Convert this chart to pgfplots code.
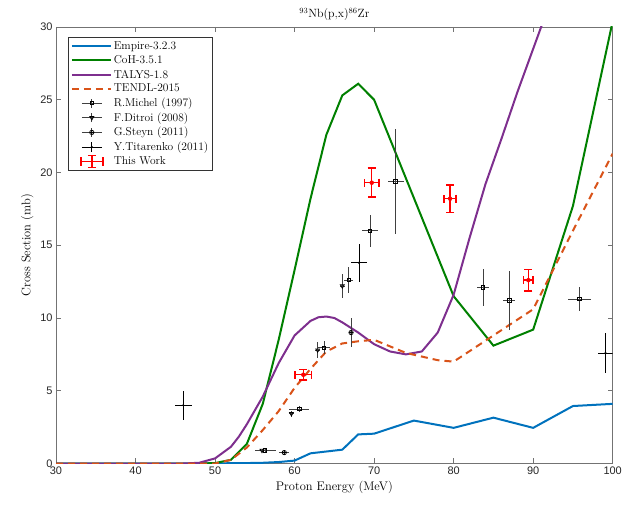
\documentclass[border=0pt]{standalone}
\usepackage{pgfplots}
\pgfplotsset{compat=1.18}
\usepackage{pgfplotstable}
\usepackage{fontspec}
\usetikzlibrary{calc}
\newfontfamily\ticksf{Liberation Sans}
\definecolor{mblue}{rgb}{0,0.447,0.741}
\definecolor{mgreen}{rgb}{0,0.5,0}
\definecolor{mpurple}{rgb}{0.494,0.184,0.556}
\definecolor{morange}{rgb}{0.85,0.325,0.098}
\definecolor{axgray}{rgb}{0.45,0.45,0.45}

\pgfplotstableread{
x y ex ey
56.3 0.90 1.3 0.15
60.6 3.75 1.25 0.2
63.7 7.95 0.8 0.45
66.8 12.6 0.6 0.9
69.5 16.0 1.05 1.1
72.7 19.4 1.0 3.6
83.7 12.1 0.75 1.25
87.0 11.2 0.75 2.05
95.8 11.3 1.45 0.8
}\michel
\pgfplotstableread{
x y ex ey
55.9 0.90 0.5 0.1
59.6 3.43 0.3 0.2
62.9 7.80 0.3 0.55
66.0 12.2 0.3 0.8
}\ditroi
\pgfplotstableread{
x y ex ey
58.7 0.75 0.6 0.1
67.1 9.0 0.3 1.0
}\steyn
\pgfplotstableread{
x y ex ey
46.0 4.0 1.05 1.0
68.1 13.8 1.05 1.3
99.1 7.6 0.95 1.35
}\titarenko
\pgfplotstableread{
x y ex ey
61.1 6.1 1.05 0.35
69.7 19.3 0.9 1.0
79.55 18.2 0.75 0.95
89.4 12.6 0.6 0.75
}\thiswork

\begin{document}
\begin{tikzpicture}
\begin{axis}[
  scale only axis,
  width=556.7bp, height=436.5bp,
  xmin=30, xmax=100, ymin=0, ymax=30,
  xtick={30,40,...,100}, ytick={0,5,...,30},
  tick align=inside,
  major tick length=5bp,
  axis line style={axgray, line width=0.7bp},
  tick style={axgray, line width=0.7bp},
  /pgf/number format/assume math mode=true,
  tick label style={font=\ticksf\fontsize{11}{11}\selectfont, black!85},
  xlabel={Proton Energy (MeV)},
  ylabel={Cross Section (mb)},
  label style={font=\fontsize{12.5}{14}\selectfont},
  title={$^{93}$Nb(p,x)$^{86}$Zr},
  title style={font=\fontsize{12}{14}\selectfont, yshift=-3bp},
  legend cell align=left,
  legend style={at={(0.0216,0.977)}, anchor=north west, draw=black!80, line width=0.6bp,
    font=\fontsize{11.5}{13}\selectfont, row sep=0.6bp, inner sep=2.5bp},
  legend image code/.code={\draw[#1] (0bp,0bp)--(39bp,0bp);},
]
\coordinate (ll) at (rel axis cs:0,0);
\coordinate (ur) at (rel axis cs:1,1);
\addplot[mblue, line width=2bp] coordinates {
(30,0) (48,0) (50,0.01) (52,0.02) (54,0.03) (56,0.05) (58,0.1) (60,0.2) (62,0.7) (66,0.95) (68,2.0) (70,2.05) (75,2.95) (80,2.45) (85,3.15) (90,2.45) (95,3.95) (100,4.1)
};
\addlegendentry{Empire-3.2.3}
\addplot[mgreen, line width=2bp] coordinates {
(30,0) (48,0) (50,0.03) (52,0.25) (54,1.35) (56,4.1) (58,8.5) (60,13.3) (62,18.2) (64,22.6) (66,25.3) (68,26.1) (70,25.0) (80,11.5) (85,8.1) (90,9.2) (95,17.7) (100,30.4)
};
\addlegendentry{CoH-3.5.1}
\addplot[mpurple, line width=2bp] coordinates {
(30,0) (46,0) (48,0.05) (50,0.35) (52,1.15) (53,1.85) (54,2.7) (56,4.6) (58,6.9) (60,8.8) (62,9.8) (63,10.05) (64,10.1) (65,10.0) (66,9.7) (68,9.0) (70,8.2) (72,7.7) (74,7.5) (76,7.7) (78,9.0) (80,11.6) (82,15.5) (84,19.2) (86,22.3) (88,25.5) (90,28.5) (92,31.5)
};
\addlegendentry{TALYS-1.8}
\addplot[morange, line width=2bp, dash pattern=on 7bp off 5bp] coordinates {
(30,0) (50,0) (52,0.25) (54,1.1) (56,2.3) (58,3.6) (60,5.2) (62,6.5) (64,7.7) (66,8.25) (68,8.4) (70,8.5) (72,8.05) (74,7.6) (76,7.35) (78,7.1) (80,7.0) (85,8.8) (90,10.6) (95,16.0) (100,21.3)
};
\addlegendentry{TENDL-2015}
\addplot[black, only marks, mark=square, mark size=1.7bp, mark options={line width=0.8bp},
  legend image code/.code={\draw[black!75,line width=0.8bp] (10bp,0bp)--(30bp,0bp) (20bp,-4.5bp)--(20bp,4.5bp); \draw[black,line width=0.8bp] plot[mark=square, mark size=1.7bp] coordinates {(20bp,0bp)};},
  error bars/.cd, x dir=both, y dir=both, x explicit, y explicit,
  error bar style={black!75, line width=0.8bp}, error mark=none]
  table[x=x, y=y, x error=ex, y error=ey] {\michel};
\addlegendentry{R.Michel (1997)}
\addplot[black, only marks, mark=triangle, mark size=2.2bp, mark options={rotate=180, line width=0.8bp},
  legend image code/.code={\draw[black!75,line width=0.8bp] (10bp,0bp)--(30bp,0bp) (20bp,-4.5bp)--(20bp,4.5bp); \draw[black,line width=0.8bp] plot[mark=triangle, mark size=2.2bp, mark options={rotate=180}] coordinates {(20bp,0bp)};},
  error bars/.cd, x dir=both, y dir=both, x explicit, y explicit,
  error bar style={black!75, line width=0.8bp}, error mark=none]
  table[x=x, y=y, x error=ex, y error=ey] {\ditroi};
\addlegendentry{F.Ditroi (2008)}
\addplot[black, only marks, mark=oplus, mark size=2.2bp, mark options={line width=0.7bp},
  legend image code/.code={\draw[black!75,line width=0.8bp] (10bp,0bp)--(30bp,0bp) (20bp,-4.5bp)--(20bp,4.5bp); \draw[black,line width=0.7bp] plot[mark=oplus, mark size=2.2bp] coordinates {(20bp,0bp)};},
  error bars/.cd, x dir=both, y dir=both, x explicit, y explicit,
  error bar style={black!75, line width=0.8bp}, error mark=none]
  table[x=x, y=y, x error=ex, y error=ey] {\steyn};
\addlegendentry{G.Steyn (2011)}
\addplot[black, only marks, mark=*, mark size=0.8bp,
  legend image code/.code={\draw[black,line width=0.8bp] (10bp,0bp)--(30bp,0bp) (20bp,-5bp)--(20bp,5bp); \fill[black] (20bp,0bp) circle (0.8bp);},
  error bars/.cd, x dir=both, y dir=both, x explicit, y explicit,
  error bar style={black, line width=0.8bp}, error mark=none]
  table[x=x, y=y, x error=ex, y error=ey] {\titarenko};
\addlegendentry{Y.Titarenko (2011)}
\addplot[red, only marks, mark=none,
  legend image code/.code={\draw[red,line width=1.5bp] (9bp,0bp)--(31bp,0bp) (9bp,-4.5bp)--(9bp,4.5bp) (31bp,-4.5bp)--(31bp,4.5bp) (20bp,-6bp)--(20bp,6bp) (16bp,-6bp)--(24bp,-6bp) (16bp,6bp)--(24bp,6bp);},
  error bars/.cd, x dir=both, y dir=both, x explicit, y explicit,
  error bar style={red, line width=1.5bp},
  error mark options={red, line width=1.5bp, mark size=4bp, rotate=90}]
  table[x=x, y=y, x error=ex, y error=ey] {\thiswork};
\addlegendentry{This Work}
\end{axis}
\pgfresetboundingbox
\path ($(ll)+(-56bp,-44.5bp)$) rectangle ($(ur)+(21.3bp,27bp)$);
\end{tikzpicture}
\end{document}
